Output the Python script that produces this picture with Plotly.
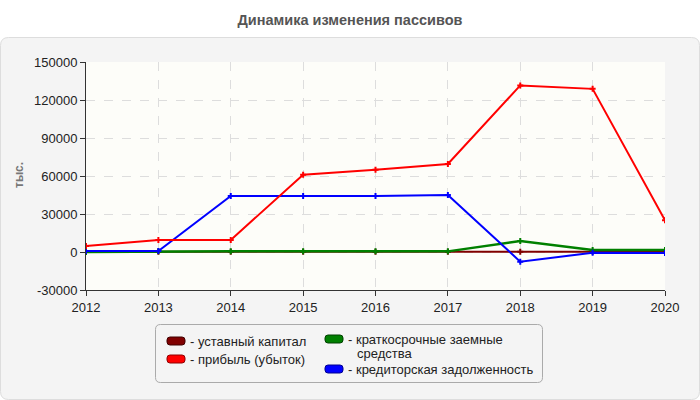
import plotly.graph_objects as go

years = [2012, 2013, 2014, 2015, 2016, 2017, 2018, 2019, 2020]
ustavny = [100, 100, 100, 100, 100, 100, 100, 100, 100]
pribyl = [4700, 9500, 9500, 61000, 65000, 69500, 131500, 128800, 25000]
kratkosroch = [0, 500, 500, 500, 500, 500, 8700, 1500, 1500]
kredit = [800, 800, 44200, 44200, 44200, 45000, -7600, -600, -800]

names = ["уставный капитал", "прибыль (убыток)", "краткосрочные заемные|средства", "кредиторская задолженность"]
colors = ["#800000", "#ff0000", "#008000", "#0000ff"]
borders = ["#400000", "#900000", "#004000", "#000090"]
y_ticks = [-30000, 0, 30000, 60000, 90000, 120000, 150000]
y_ticktext = ["-30000", "0", "30000", "60000", "90000", "120000", "150000"]
x_ticktext = ["2012", "2013", "2014", "2015", "2016", "2017", "2018", "2019", "2020"]

FONT = "Liberation Sans, Arial, sans-serif"

fig = go.Figure()
series = [(ustavny, 0, 2), (kratkosroch, 2, 2.5), (kredit, 3, 2), (pribyl, 1, 2)]
for vals, idx, w in series:
    fig.add_trace(go.Scatter(
        x=years, y=vals, mode="lines+markers", name=names[idx].replace("|", " "),
        line=dict(color=colors[idx], width=w),
        marker=dict(symbol="cross", size=5, color=colors[idx]),
        showlegend=False,
    ))

W, H = 700, 400
ml, mr, mt, mb = 86, 35, 62, 110
pw, ph = W - ml - mr, H - mt - mb

def px(x):
    return (x - ml) / pw

def py(y):
    return (H - mb - y) / ph

def rrect(x0, y0, x1, y1, r):
    rx, ry = r / pw, r / ph
    X0, X1 = px(x0), px(x1)
    Y0, Y1 = py(y0), py(y1)
    return (f"M{X0+rx},{Y0} L{X1-rx},{Y0} Q{X1},{Y0} {X1},{Y0-ry} "
            f"L{X1},{Y1+ry} Q{X1},{Y1} {X1-rx},{Y1} L{X0+rx},{Y1} "
            f"Q{X0},{Y1} {X0},{Y1+ry} L{X0},{Y0-ry} Q{X0},{Y0} {X0+rx},{Y0} Z")

shapes = []
shapes.append(dict(type="path", xref="paper", yref="paper", layer="below",
                   path=rrect(0.5, 37.5, 699.5, 399.5, 8),
                   fillcolor="#f4f4f4", line=dict(color="#dddddd", width=1)))
shapes.append(dict(type="rect", xref="paper", yref="paper", layer="below",
                   x0=0, x1=1, y0=0, y1=1, fillcolor="#fdfdf9", line=dict(width=0)))
shapes.append(dict(type="path", xref="paper", yref="paper", layer="above",
                   path=rrect(155.5, 324.5, 542.5, 382.5, 5),
                   fillcolor="rgba(0,0,0,0)", line=dict(color="#aaaaaa", width=1)))

annotations = []
legend_items = [
    (0, 167, 341, 188),
    (1, 167, 359, 188),
    (2, 325, 339, 346),
    (3, 325, 369, 346),
]
for idx, sx, sy, tx in legend_items:
    shapes.append(dict(type="path", xref="paper", yref="paper", layer="above",
                       path=rrect(sx, sy - 4, sx + 18, sy + 4, 3),
                       fillcolor=colors[idx], line=dict(color=borders[idx], width=1)))
    lines = names[idx].split("|")
    for k, ln in enumerate(lines):
        annotations.append(dict(xref="paper", yref="paper", x=px(tx if k == 0 else tx + 9),
                                y=py(sy + k * 14), xanchor="left", yanchor="middle",
                                showarrow=False, align="left",
                                text=("- " + ln) if k == 0 else ln,
                                font=dict(family=FONT, size=13, color="#222222")))

annotations.append(dict(xref="paper", yref="paper", x=px(19), y=py(175),
                        xanchor="center", yanchor="middle", showarrow=False,
                        text="тыс.", textangle=-90,
                        font=dict(family=FONT, size=12, color="#777777", weight="bold")))

fig.update_layout(
    width=W, height=H,
    margin=dict(l=ml, r=mr, t=mt, b=mb),
    paper_bgcolor="#ffffff",
    plot_bgcolor="rgba(0,0,0,0)",
    title=dict(text="Динамика изменения пассивов", x=0.5, xanchor="center",
               y=1 - 20 / H, yanchor="middle",
               font=dict(family=FONT, size=14.5, color="#555555", weight="bold")),
    shapes=shapes,
    annotations=annotations,
    showlegend=False,
    xaxis=dict(range=[2012, 2020], tickmode="array", tickvals=years, ticktext=x_ticktext,
               showgrid=True, gridcolor="#dddddd", griddash="dash", gridwidth=1,
               showline=True, linecolor="#333333", linewidth=1,
               ticks="outside", ticklen=5, tickcolor="#333333",
               tickfont=dict(family=FONT, size=13, color="#222222"), zeroline=False),
    yaxis=dict(range=[-30000, 150000], tickmode="array", tickvals=y_ticks, ticktext=y_ticktext,
               showgrid=True, gridcolor="#dddddd", griddash="dash", gridwidth=1,
               showline=True, linecolor="#333333", linewidth=1,
               ticks="outside", ticklen=5, tickcolor="#333333",
               tickfont=dict(family=FONT, size=13, color="#222222"), zeroline=False),
)

fig.write_html("out.html")
